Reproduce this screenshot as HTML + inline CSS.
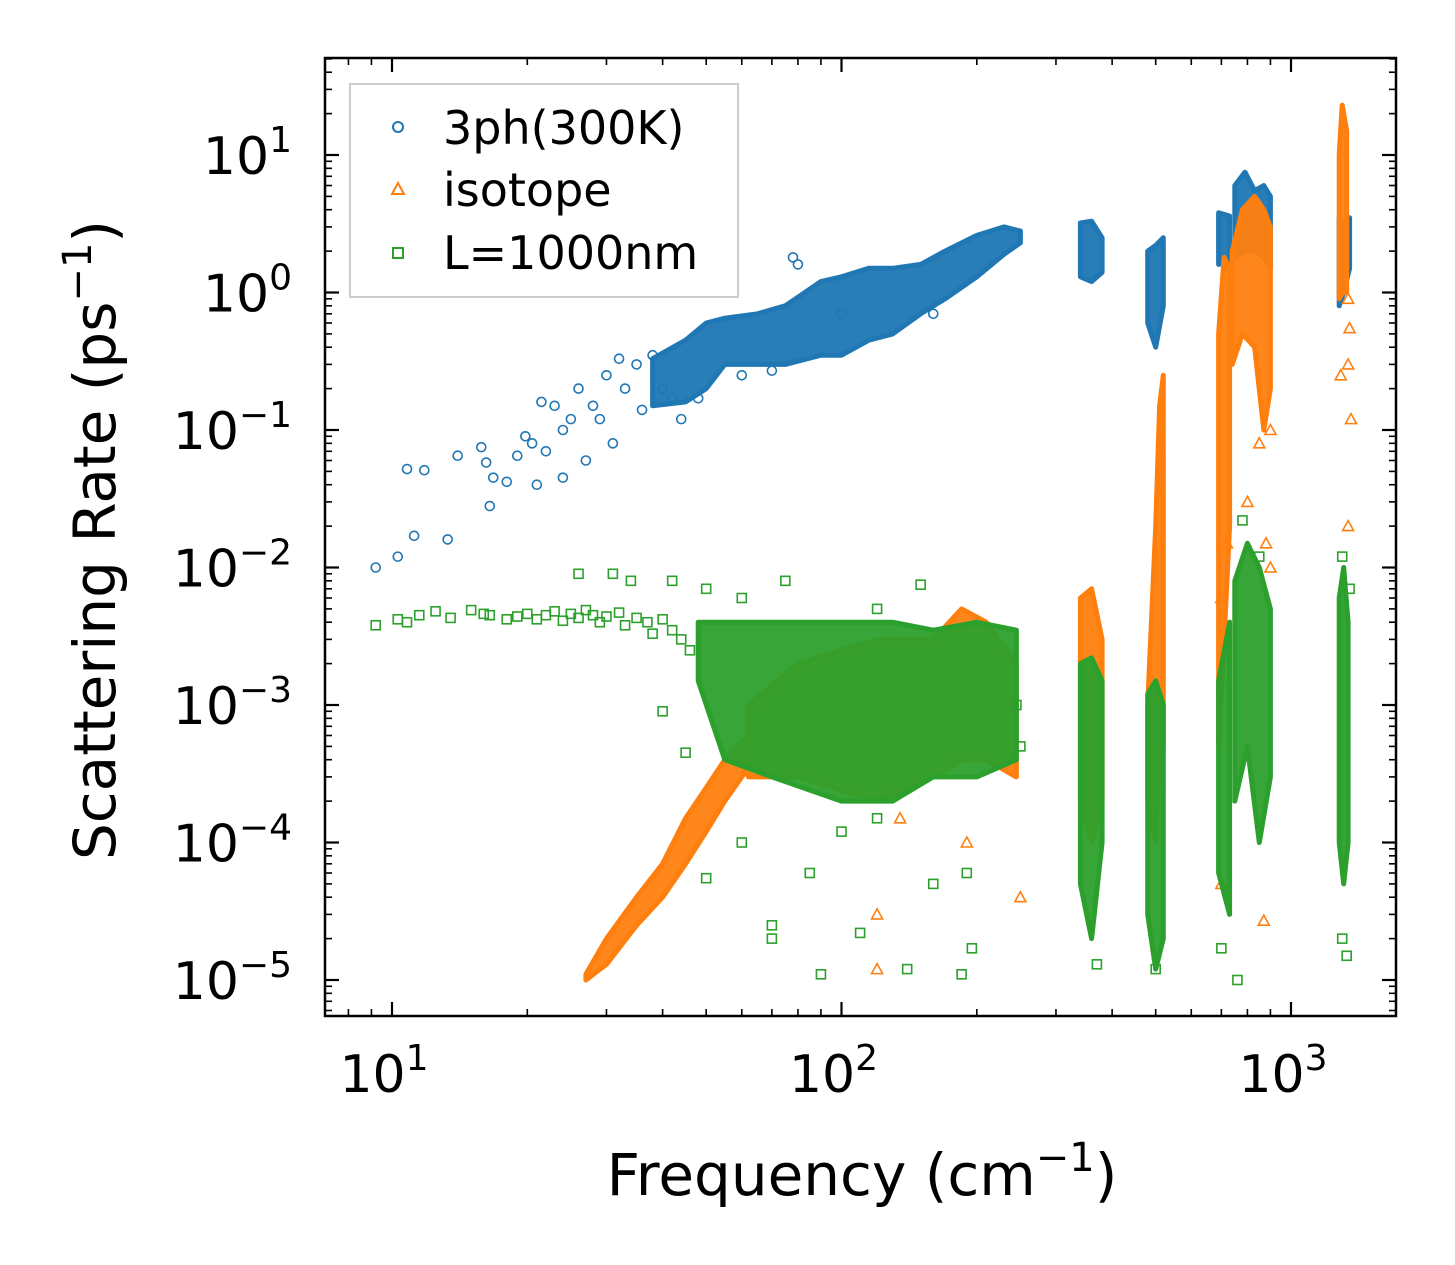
<!DOCTYPE html>
<html><head><meta charset="utf-8"><style>
html,body{margin:0;padding:0;background:#fff;}
svg{display:block;font-family:"DejaVu Sans","Liberation Sans",sans-serif;}
</style></head><body>
<svg id="chart" width="1455" height="1265" viewBox="0 0 1455 1265" xmlns="http://www.w3.org/2000/svg">
<rect x="0" y="0" width="1455" height="1265" fill="#fff"/>
<g id="plot"></g>
<g id="axes"></g>
<text x="862" y="1195" font-size="58" text-anchor="middle">Frequency (cm<tspan font-size="40" dy="-24">−1</tspan><tspan dy="24">)</tspan></text>
<text transform="translate(115,540) rotate(-90)" font-size="58" text-anchor="middle">Scattering Rate (ps<tspan font-size="40" dy="-24">−1</tspan><tspan dy="24">)</tspan></text>
<g>
<rect x="350" y="84" width="388" height="213" fill="#fff" fill-opacity="0.8" stroke="#ccc" stroke-width="2"/>
<circle cx="398" cy="127" r="5" fill="none" stroke="#1f77b4" stroke-width="2"/>
<text x="443" y="144" font-size="46">3ph(300K)</text>
<polygon points="398,183 404,194 392,194" fill="none" stroke="#ff7f0e" stroke-width="2"/>
<text x="443" y="206" font-size="46">isotope</text>
<rect x="393" y="248" width="10" height="10" fill="none" stroke="#2ca02c" stroke-width="2"/>
<text x="443" y="269" font-size="46">L=1000nm</text>
</g>
</svg>
<script>
const xTickLabels=["10","10","10"];
const xTickExps=[1,2,3];
const yTickExps=[1,0,-1,-2,-3,-4,-5];
// bands: [freq, low, high]
const blueBands=[
[[38,0.15,0.33],[45,0.16,0.45],[50,0.2,0.6],[55,0.3,0.65],[65,0.3,0.7],[75,0.3,0.8],[90,0.35,1.2],[100,0.35,1.3],[115,0.45,1.5],[130,0.5,1.5],[150,0.7,1.6],[170,0.9,2],[200,1.3,2.6],[230,1.9,3],[250,2.3,2.8]],
[[340,1.3,3.2],[360,1.2,3.3],[380,1.4,2.5]],
[[480,0.6,2],[500,0.4,2.2],[520,0.8,2.5]],
[[690,1.6,3.8],[730,1.7,3.6]],
[[750,1.8,6],[790,2,7.5],[830,2,5.5],[870,1.8,6],[900,1.5,5]],
[[1280,0.8,3.5],[1310,1,3],[1350,1.5,3.5]]];
const bluePoints=[[9.2,0.01],[10.3,0.012],[10.8,0.052],[11.2,0.017],[11.8,0.051],[13.3,0.016],[14,0.065],[15.8,0.075],[16.2,0.058],[16.5,0.028],[16.8,0.045],[18,0.042],[19,0.065],[19.8,0.09],[20.5,0.08],[21,0.04],[21.5,0.16],[22,0.07],[23,0.15],[24,0.045],[24,0.1],[25,0.12],[26,0.2],[27,0.06],[28,0.15],[29,0.12],[30,0.25],[31,0.08],[32,0.33],[33,0.2],[35,0.3],[36,0.14],[38,0.35],[40,0.2],[42,0.17],[44,0.12],[48,0.17],[60,0.25],[70,0.27],[78,1.8],[80,1.6],[100,0.7],[160,0.7]];
const orangeBands=[
[[27,1e-5,1.1e-5],[30,1.3e-5,2e-5],[35,2.5e-5,4e-5],[40,4e-5,7e-5],[45,7e-5,1.5e-4],[50,1.2e-4,2.5e-4],[55,2e-4,4e-4],[62,3.5e-4,6e-4]],
[[62,3e-4,1e-3],[80,3e-4,2e-3],[120,2e-4,3e-3],[160,3e-4,3e-3],[185,4e-4,5e-3],[210,4e-4,4e-3],[245,3e-4,2e-3]],
[[340,2e-4,6e-3],[360,1e-4,7e-3],[380,2e-4,3e-3]],
[[480,2e-4,1e-3],[500,1e-4,0.02],[510,5e-4,0.15],[520,5e-4,0.25]],
[[690,5e-4,0.5],[710,3e-3,1.8],[730,0.02,1.5]],
[[740,0.3,2],[780,0.5,4],[830,0.4,5],[870,0.1,4],[900,0.2,3]],
[[1280,0.9,10],[1300,1,23],[1330,1,15]]];
const orangePoints=[[1290,0.25],[1340,0.3],[1360,0.12],[1340,0.02],[1350,0.55],[1340,0.9],[900,0.1],[850,0.08],[800,0.03],[720,0.015],[900,0.01],[880,0.015],[700,6e-3],[250,4e-5],[120,1.2e-5],[120,3e-5],[190,1e-4],[135,1.5e-4],[870,2.7e-5],[700,5e-5]];
const greenBands=[
[[48,1.5e-3,4e-3],[55,4e-4,4e-3],[70,3e-4,4e-3],[100,2e-4,4e-3],[130,2e-4,4e-3],[160,3e-4,3.5e-3],[200,3e-4,4e-3],[245,4e-4,3.5e-3]],
[[340,5e-5,2e-3],[360,2e-5,2.2e-3],[380,1e-4,1.5e-3]],
[[480,3e-5,1.2e-3],[500,1.2e-5,1.5e-3],[520,2e-5,1e-3]],
[[690,6e-5,1.5e-3],[730,3e-5,4e-3]],
[[750,2e-4,8e-3],[800,5e-4,0.015],[850,1e-4,0.01],[900,3e-4,0.005]],
[[1280,1e-4,6e-3],[1310,5e-5,1e-2],[1340,1e-4,4e-3]]];
const greenPoints=[[9.2,3.8e-3],[10.3,4.2e-3],[10.8,4e-3],[11.5,4.5e-3],[12.5,4.8e-3],[13.5,4.3e-3],[15,4.9e-3],[16,4.6e-3],[16.5,4.5e-3],[18,4.2e-3],[19,4.4e-3],[20,4.6e-3],[21,4.2e-3],[22,4.5e-3],[23,4.8e-3],[24,4.1e-3],[25,4.6e-3],[26,4.3e-3],[27,4.9e-3],[28,4.5e-3],[29,4e-3],[30,4.4e-3],[32,4.7e-3],[33,3.8e-3],[35,4.3e-3],[37,4e-3],[38,3.3e-3],[40,4.2e-3],[42,3.5e-3],[44,3e-3],[46,2.5e-3],[26,9e-3],[31,9e-3],[34,8e-3],[42,8e-3],[50,7e-3],[60,6e-3],[75,8e-3],[150,7.5e-3],[120,5e-3],[50,5.5e-5],[70,2.5e-5],[70,2e-5],[90,1.1e-5],[110,2.2e-5],[140,1.2e-5],[185,1.1e-5],[195,1.7e-5],[160,5e-5],[85,6e-5],[60,1e-4],[45,4.5e-4],[250,5e-4],[780,0.022],[850,0.012],[1300,0.012],[1350,7e-3],[760,1e-5],[700,1.7e-5],[1300,2e-5],[1330,1.5e-5],[370,1.3e-5],[500,1.2e-5],[40,9e-4],[245,1e-3],[190,6e-5],[120,1.5e-4],[100,1.2e-4]];

const L=325,R=1396,T=58,B=1016;
const X0=392,XD=449.5,Y0=980,YD=137.5;
function xs(f){return X0+(Math.log10(f)-1)*XD;}
function ys(v){return Y0-(Math.log10(v)+5)*YD;}
const NS="http://www.w3.org/2000/svg";
const plot=document.getElementById('plot'),axes=document.getElementById('axes');
function mk(tag,attrs,parent){const e=document.createElementNS(NS,tag);for(const k in attrs)e.setAttribute(k,attrs[k]);parent.appendChild(e);return e;}

function drawSeries(bands,pts,color,shape,name){
  const g=mk('g',{},plot);
  
  
  bands.forEach(b=>{
    const up=b.map(s=>xs(s[0]).toFixed(1)+','+ys(s[2]).toFixed(1));
    const lo=b.slice().reverse().map(s=>xs(s[0]).toFixed(1)+','+ys(s[1]).toFixed(1));
    const p=mk('polygon',{points:up.concat(lo).join(' '),fill:color,stroke:color,'stroke-width':5,'stroke-linejoin':'round','fill-opacity':0.95},g);
    
    
  });
  pts.forEach(p=>{
    const x=xs(p[0]),y=ys(p[1]);let e;
    if(shape==='c')e=mk('circle',{cx:x,cy:y,r:4.5,fill:'none',stroke:color,'stroke-width':1.6},g);
    else if(shape==='t')e=mk('polygon',{points:`${x},${y-5.5} ${x+5.5},${y+4.5} ${x-5.5},${y+4.5}`,fill:'none',stroke:color,'stroke-width':1.6},g);
    else e=mk('rect',{x:x-4.5,y:y-4.5,width:9,height:9,fill:'none',stroke:color,'stroke-width':1.6},g);
    
    
  });
}
drawSeries(blueBands,bluePoints,'#1f77b4','c','3ph');
drawSeries(orangeBands,orangePoints,'#ff7f0e','t','isotope');
drawSeries(greenBands,greenPoints,'#2ca02c','s','boundary');

const frame=mk('rect',{x:L,y:T,width:R-L,height:B-T,fill:'none',stroke:'#000','stroke-width':2.5},axes);


for(let d=0;d<=3;d++){for(let m=1;m<10;m++){const f=m*Math.pow(10,d);const x=xs(f);if(x<L||x>R)continue;const len=m===1?14:7;
  mk('line',{x1:x,y1:B,x2:x,y2:B-len,stroke:'#000','stroke-width':m===1?2.2:1.6},axes);
  mk('line',{x1:x,y1:T,x2:x,y2:T+len,stroke:'#000','stroke-width':m===1?2.2:1.6},axes);}}
xTickExps.forEach((e,i)=>{const t=mk('text',{x:xs(Math.pow(10,e))-8,y:1092,'font-size':52,'text-anchor':'middle'},axes);
  
  
  t.textContent=xTickLabels[i];const s=mk('tspan',{'font-size':36,dy:-22},t);s.textContent=e;});
for(let d=-6;d<=1;d++){for(let m=1;m<10;m++){const v=m*Math.pow(10,d);const y=ys(v);if(y<T||y>B)continue;const len=m===1?14:7;
  mk('line',{x1:L,y1:y,x2:L+len,y2:y,stroke:'#000','stroke-width':m===1?2.2:1.6},axes);
  mk('line',{x1:R,y1:y,x2:R-len,y2:y,stroke:'#000','stroke-width':m===1?2.2:1.6},axes);}}
yTickExps.forEach(e=>{const y=ys(Math.pow(10,e));const t=mk('text',{x:292,y:y+19,'font-size':52,'text-anchor':'end'},axes);
  
  
  t.textContent='10';const s=mk('tspan',{'font-size':36,dy:-22},t);s.textContent=e<0?'−'+(-e):String(e);});
</script>
</body></html>
